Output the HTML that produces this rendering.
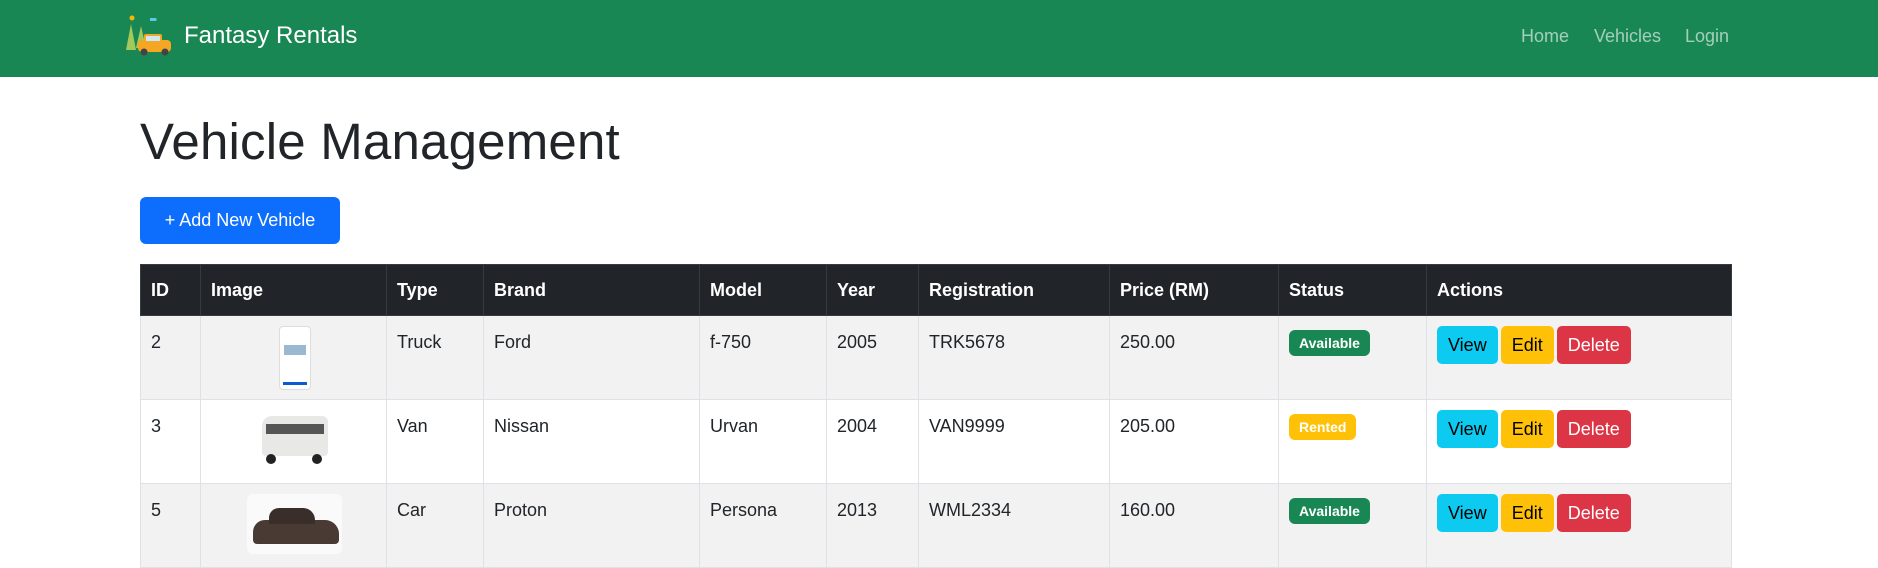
<!DOCTYPE html>
<html><head><meta charset="utf-8"><style>
*{box-sizing:border-box;margin:0;padding:0}
body{width:1878px;height:546px;overflow:hidden;background:#fff;font-family:"Liberation Sans",sans-serif;color:#212529;position:relative}
.nav{position:absolute;left:0;top:0;width:1878px;height:77px;background:#198754}
.brand{position:absolute;left:184px;top:22px;font-size:24px;color:#fff}
.logo{position:absolute;left:126px;top:14px;width:46px;height:44px}
.nl{position:absolute;top:26px;font-size:18px;color:rgba(255,255,255,.6)}
h1{position:absolute;left:140px;top:112px;font-size:51px;font-weight:normal;letter-spacing:0.2px}
.add{position:absolute;left:140px;top:197px;width:200px;height:47px;background:#0d6efd;border-radius:6px;color:#fff;font-size:18px;line-height:47px;text-align:center}
table{position:absolute;left:140px;top:264px;border-collapse:collapse;table-layout:fixed;width:1591px}
th{background:#212529;color:#fff;font-weight:bold;font-size:18px;text-align:left;height:51px;padding:0 10px;border:1px solid #373b3e}
td{font-size:18px;vertical-align:top;padding:16px 10px 8px;border:1px solid #dee2e6;height:84px;position:relative}
tr.s td{background:#f2f2f2}
.badge{display:inline-block;color:#fff;font-weight:bold;font-size:14px;padding:5px 10px;border-radius:6px;margin-top:0}
.btn{display:inline-block;height:38px;line-height:38px;padding:0 11px;border-radius:5px;font-size:18px;margin-right:3px}
.v{background:#0dcaf0;color:#000}.e{background:#ffc107;color:#000}.d{background:#dc3545;color:#fff}
.img{position:absolute}
</style></head><body>
<div class="nav">
<svg class="logo" viewBox="0 0 46 44">
<circle cx="6" cy="4" r="2.5" fill="#f5b700"/><path d="M24 4h6a2 2 0 0 1 0 3h-6z" fill="#5ac8e6"/>
<polygon points="5,10 0,36 10,36" fill="#a5c85a"/><polygon points="15,12 10,34 20,34" fill="#a5c85a"/>
<rect x="12" y="26" width="33" height="12" rx="4" fill="#f5a623"/><rect x="18" y="20" width="18" height="8" rx="2" fill="#f5a623"/>
<rect x="20" y="22" width="14" height="5" fill="#cfe8f5"/><circle cx="18" cy="38" r="3.5" fill="#444"/><circle cx="39" cy="38" r="3.5" fill="#444"/></svg>
<div class="brand">Fantasy Rentals</div>
<div class="nl" style="left:1521px">Home</div>
<div class="nl" style="left:1594px">Vehicles</div>
<div class="nl" style="left:1685px">Login</div>
</div>
<h1>Vehicle Management</h1>
<div class="add">+ Add New Vehicle</div>
<table>
<colgroup><col style="width:60px"><col style="width:186px"><col style="width:97px"><col style="width:216px"><col style="width:127px"><col style="width:92px"><col style="width:191px"><col style="width:169px"><col style="width:148px"><col style="width:305px"></colgroup>
<tr><th>ID</th><th>Image</th><th>Type</th><th>Brand</th><th>Model</th><th>Year</th><th>Registration</th><th>Price (RM)</th><th>Status</th><th>Actions</th></tr>
<tr class="s"><td>2</td><td><div class="img" style="left:78px;top:10px;width:32px;height:64px;background:#fff;border:1px solid #ddd;border-radius:4px"><div style="margin:18px 4px 0;height:10px;background:#9ab8d0"></div><div style="position:absolute;bottom:4px;left:3px;right:3px;height:3px;background:#0d5bd0"></div></div></td><td>Truck</td><td>Ford</td><td>f-750</td><td>2005</td><td>TRK5678</td><td>250.00</td><td style="padding-top:14px"><span class="badge" style="background:#198754">Available</span></td><td style="padding-top:10px"><span class="btn v">View</span><span class="btn e">Edit</span><span class="btn d">Delete</span></td></tr>
<tr><td>3</td><td><div class="img" style="left:55px;top:16px;width:74px;height:48px"><div style="position:absolute;left:6px;top:0;width:66px;height:40px;background:#e8e8e6;border-radius:10px 6px 4px 4px"></div><div style="position:absolute;left:10px;top:8px;width:58px;height:10px;background:#555"></div><div style="position:absolute;left:10px;top:38px;width:10px;height:10px;border-radius:50%;background:#222"></div><div style="position:absolute;left:56px;top:38px;width:10px;height:10px;border-radius:50%;background:#222"></div></div></td><td>Van</td><td>Nissan</td><td>Urvan</td><td>2004</td><td>VAN9999</td><td>205.00</td><td style="padding-top:14px"><span class="badge" style="background:#ffc107">Rented</span></td><td style="padding-top:10px"><span class="btn v">View</span><span class="btn e">Edit</span><span class="btn d">Delete</span></td></tr>
<tr class="s"><td>5</td><td><div class="img" style="left:46px;top:10px;width:95px;height:60px;background:#fafafa;border-radius:6px"><div style="position:absolute;left:6px;top:26px;width:86px;height:24px;background:#4a3a34;border-radius:12px 14px 4px 4px"></div><div style="position:absolute;left:22px;top:14px;width:46px;height:16px;background:#3a2e2a;border-radius:10px 12px 0 0"></div></div></td><td>Car</td><td>Proton</td><td>Persona</td><td>2013</td><td>WML2334</td><td>160.00</td><td style="padding-top:14px"><span class="badge" style="background:#198754">Available</span></td><td style="padding-top:10px"><span class="btn v">View</span><span class="btn e">Edit</span><span class="btn d">Delete</span></td></tr>
</table>
</body></html>
